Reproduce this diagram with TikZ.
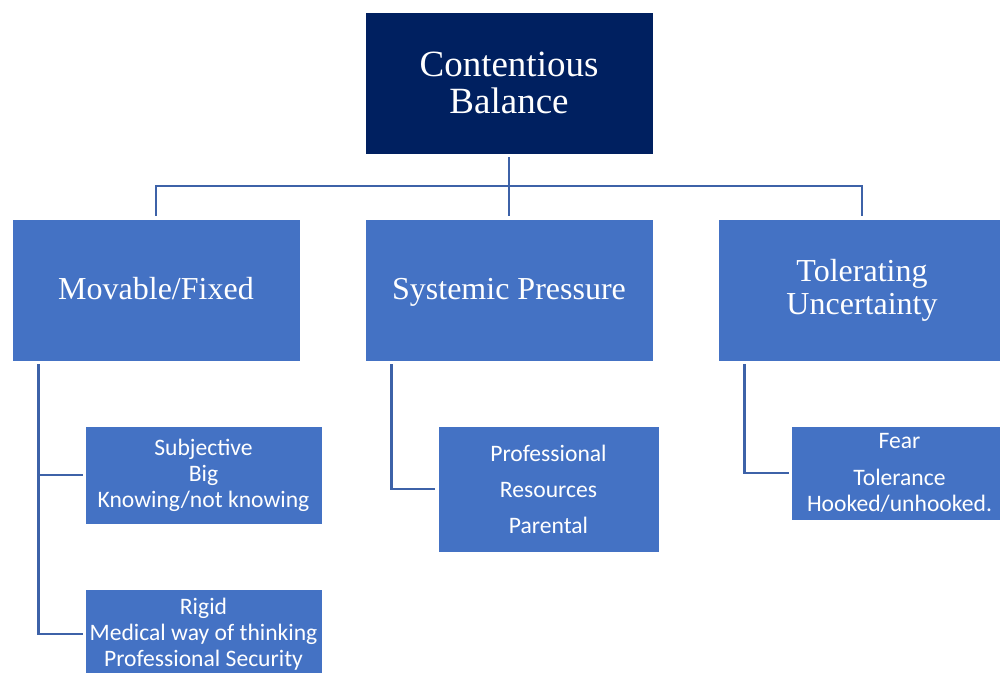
\documentclass[tikz,border=0pt]{standalone}
\usepackage{fontspec}
\setmainfont{Liberation Serif}
\newfontfamily\calib{Carlito}
\usetikzlibrary{calc}
\definecolor{navy}{HTML}{002060}
\definecolor{boxblue}{HTML}{4472C4}
\definecolor{linkblue}{HTML}{3D62A8}
\tikzset{
  x=1pt,y=-1pt,
  rootbox/.style={fill=navy,draw=white,line width=0.8pt,text=white,align=center,inner sep=0pt,
    font=\fontsize{37}{37}\selectfont},
  mainbox/.style={fill=boxblue,draw=white,line width=0.8pt,text=white,align=center,inner sep=0pt,
    minimum width=288pt,minimum height=142pt,font=\fontsize{32}{33}\selectfont},
  oneline/.style={text height=24pt,text depth=6pt},
  subbox/.style={fill=boxblue,draw=white,line width=0.8pt,text=white,align=center,inner sep=0pt,
    font=\calib\fontsize{23.6}{26}\selectfont},
  conn/.style={draw=linkblue,line width=2.6pt,line join=miter,line cap=rect}
}
\begin{document}
\begin{tikzpicture}
\useasboundingbox (0,0) rectangle (1000,672);
\node[rootbox,minimum width=288pt,minimum height=142pt] (root) at (509,83) {Contentious\\Balance};
\node[mainbox,oneline] (b1) at (156,290) {Movable/Fixed};
\node[mainbox,oneline] (b2) at (509,290) {Systemic Pressure};
\node[mainbox] (b3) at (862,290) {Tolerating\\Uncertainty};
\node[subbox,minimum width=237pt,minimum height=98pt] (sa) at (203.5,475) {Subjective\\Big\\Knowing/not knowing};
\node[subbox,minimum width=237pt,minimum height=90pt] (sb) at (203.5,634) {Rigid\\Medical way of thinking\\Professional Security};
\node[subbox,minimum width=221pt,minimum height=126pt] (sm) at (548.5,489) {Professional\\[10pt]Resources\\[10pt]Parental};
\node[subbox,minimum width=217pt,minimum height=94pt] (sr) at (899.5,473) {Fear\\[11pt]Tolerance\\Hooked/unhooked.};
\coordinate (bus) at (509,186);
\draw[conn] ([yshift=-4pt]root.south) -- ([yshift=4pt]b2.north);
\draw[conn] ([yshift=4pt]b1.north) |- (bus) -| ([yshift=4pt]b3.north);
\coordinate (l1) at ($(b1.south west)+(27,4)$);
\draw[conn] (l1) |- ([xshift=-3pt]sb.west);
\draw[conn] (l1 |- sa.west) -- ([xshift=-3pt]sa.west);
\coordinate (l2) at ($(b2.south west)+(27,4)$);
\draw[conn] (l2) |- ([xshift=-4pt]sm.west);
\coordinate (l3) at ($(b3.south west)+(27,4)$);
\draw[conn] (l3) |- ([xshift=-3pt]sr.west);
\end{tikzpicture}
\end{document}
